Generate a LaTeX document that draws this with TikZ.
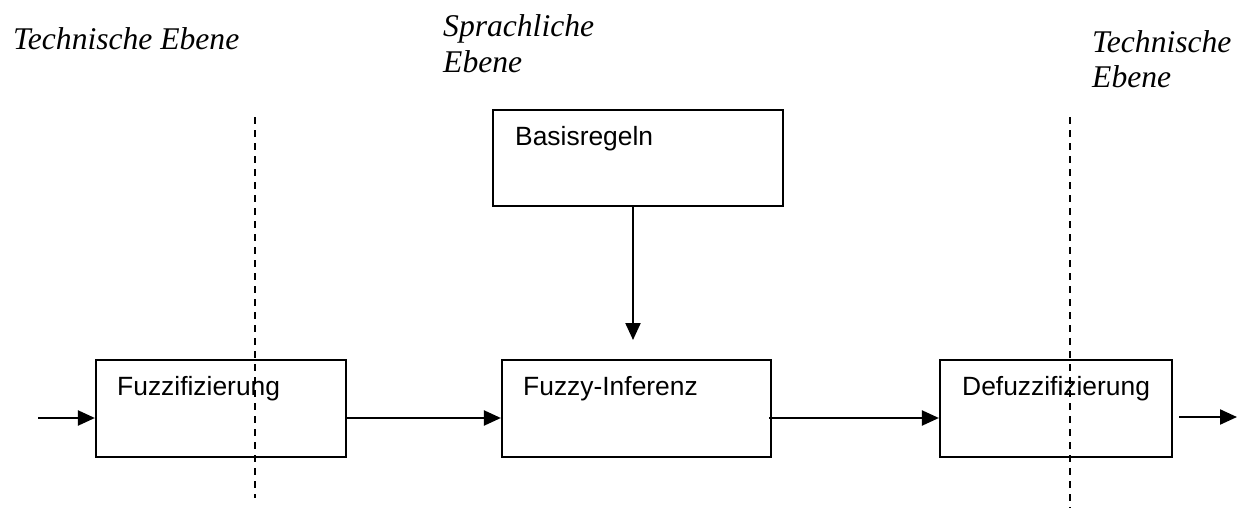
\documentclass[tikz,border=0pt]{standalone}
\usepackage{fontspec}
\setmainfont{Liberation Serif}
\newfontfamily\arialfont{Liberation Sans}
\usetikzlibrary{arrows.meta}
\begin{document}
\begin{tikzpicture}[x=1pt,y=-1pt,
  block/.style={draw=black,line width=2.2pt,inner sep=0pt},
  blocktext/.style={inner sep=0pt,anchor=base west,font=\arialfont\fontsize{26.4}{30}\selectfont},
  levellabel/.style={inner sep=0pt,anchor=base west,font=\itshape\fontsize{31.6}{36}\selectfont},
  flow/.style={line width=2.2pt,-{Triangle[length=17pt,width=15pt]}},
  divider/.style={line width=2.2pt,dash pattern=on 7pt off 6pt}]
\useasboundingbox (0,0) rectangle (1237,511);

% level captions
\node[levellabel] (techL) at (13,50) {Technische Ebene};
\node[levellabel] (sprach1) at (443,37) {Sprachliche};
\node[levellabel] (sprach2) at (443,73) {Ebene};
\node[levellabel] (techR1) at (1092,53) {Technische};
\node[levellabel] (techR2) at (1092,88) {Ebene};

% processing blocks
\node[block,minimum width=250pt,minimum height=97pt] (fuzz) at (221,408.5) {};
\node[block,minimum width=269pt,minimum height=97pt] (inf) at (636.5,408.5) {};
\node[block,minimum width=232pt,minimum height=97pt] (defuzz) at (1056,408.5) {};
\node[block,minimum width=290pt,minimum height=96pt] (rules) at (638,158) {};

\node[blocktext] (fuzzT) at (117,395) {Fuzzifizierung};
\node[blocktext] (infT) at (523,395) {Fuzzy-Inferenz};
\node[blocktext] (defuzzT) at (962,395) {Defuzzifizierung};
\node[blocktext] (rulesT) at (515,145) {Basisregeln};

% level boundaries
\coordinate (d1a) at (255,117);
\coordinate (d1b) at (255,498);
\coordinate (d2a) at (1070,117);
\coordinate (d2b) at (1070,508);
\draw[divider] (d1a) -- (d1b);
\draw[divider] (d2a) -- (d2b);

% signal flow
\coordinate (in) at (38,418);
\coordinate (out1) at (1179,417);
\coordinate (out2) at (1237,417);
\coordinate (rulesOut) at (633,206);
\coordinate (rulesEnd) at (633,340);
\draw[flow] (in) -- (in -| fuzz.west);
\draw[flow] (in -| fuzz.east) -- (in -| inf.west);
\draw[flow] ([xshift=-3pt]in -| inf.east) -- (in -| defuzz.west);
\draw[flow] (out1) -- (out2);
\draw[flow] (rulesOut) -- (rulesEnd);
\end{tikzpicture}
\end{document}
